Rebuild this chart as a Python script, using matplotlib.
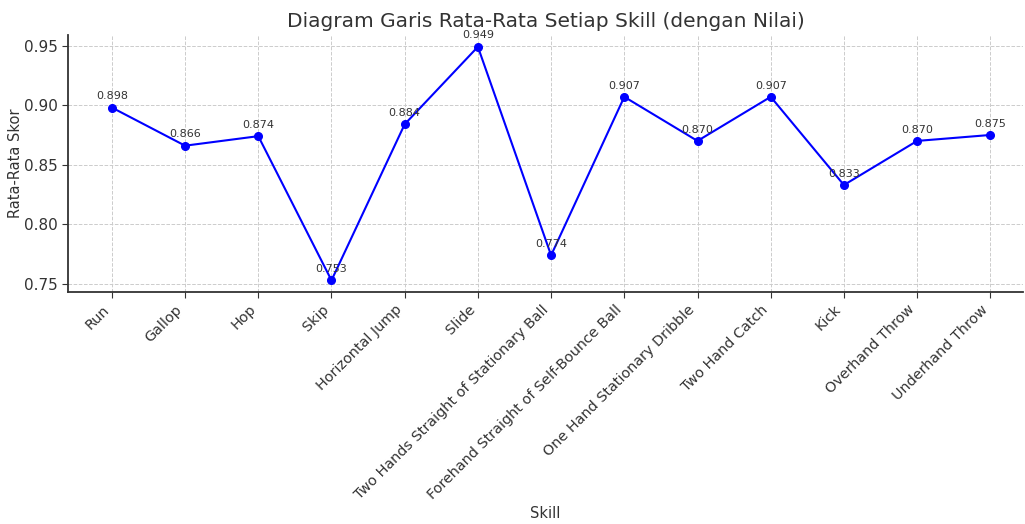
import matplotlib
matplotlib.use("Agg")
import matplotlib.pyplot as plt

skills = ["Run", "Gallop", "Hop", "Skip", "Horizontal Jump", "Slide",
          "Two Hands Straight of Stationary Ball",
          "Forehand Straight of Self-Bounce Ball",
          "One Hand Stationary Dribble", "Two Hand Catch", "Kick",
          "Overhand Throw", "Underhand Throw"]
scores = [0.898, 0.866, 0.874, 0.753, 0.884, 0.949, 0.774,
          0.907, 0.870, 0.907, 0.833, 0.870, 0.875]

text_color = "#333333"

fig = plt.figure(figsize=(10.25, 5.24), dpi=100)
ax = fig.add_axes([0.0663, 0.4427, 0.932, 0.4903])

x = list(range(len(skills)))
ax.plot(x, scores, color="blue", marker="o", markersize=5.5, linewidth=1.5)

for xi, v in zip(x, scores):
    ax.annotate(f"{v:.3f}", (xi, v), textcoords="offset points", xytext=(0, 6),
                ha="center", fontsize=8, color=text_color)

ax.set_xticks(x)
ax.set_xticklabels(skills, rotation=45, ha="right", fontsize=10.4, color=text_color)
ax.set_xlim(-0.6, 12.45)
ax.set_ylim(0.7432, 0.9588)
ax.set_yticks([0.75, 0.80, 0.85, 0.90, 0.95])
ax.set_yticklabels(["0.75", "0.80", "0.85", "0.90", "0.95"])
ax.tick_params(axis="y", labelsize=11, labelcolor=text_color, pad=3)
ax.tick_params(colors=text_color, length=4)

ax.grid(True, linestyle="--", color="#cccccc", linewidth=0.7)
ax.set_axisbelow(True)
for s in ["top", "right"]:
    ax.spines[s].set_visible(False)
for s in ["left", "bottom"]:
    ax.spines[s].set_color(text_color)
    ax.spines[s].set_linewidth(1.3)

ax.set_title("Diagram Garis Rata-Rata Setiap Skill (dengan Nilai)", fontsize=14.5,
             color=text_color, pad=6)
ax.set_xlabel("Skill", fontsize=10.5, color=text_color, labelpad=3)
ax.set_ylabel("Rata-Rata Skor", fontsize=10.5, color=text_color)
ax.yaxis.set_label_coords(-0.047, 0.5)

fig.savefig("out.png", dpi=100)
